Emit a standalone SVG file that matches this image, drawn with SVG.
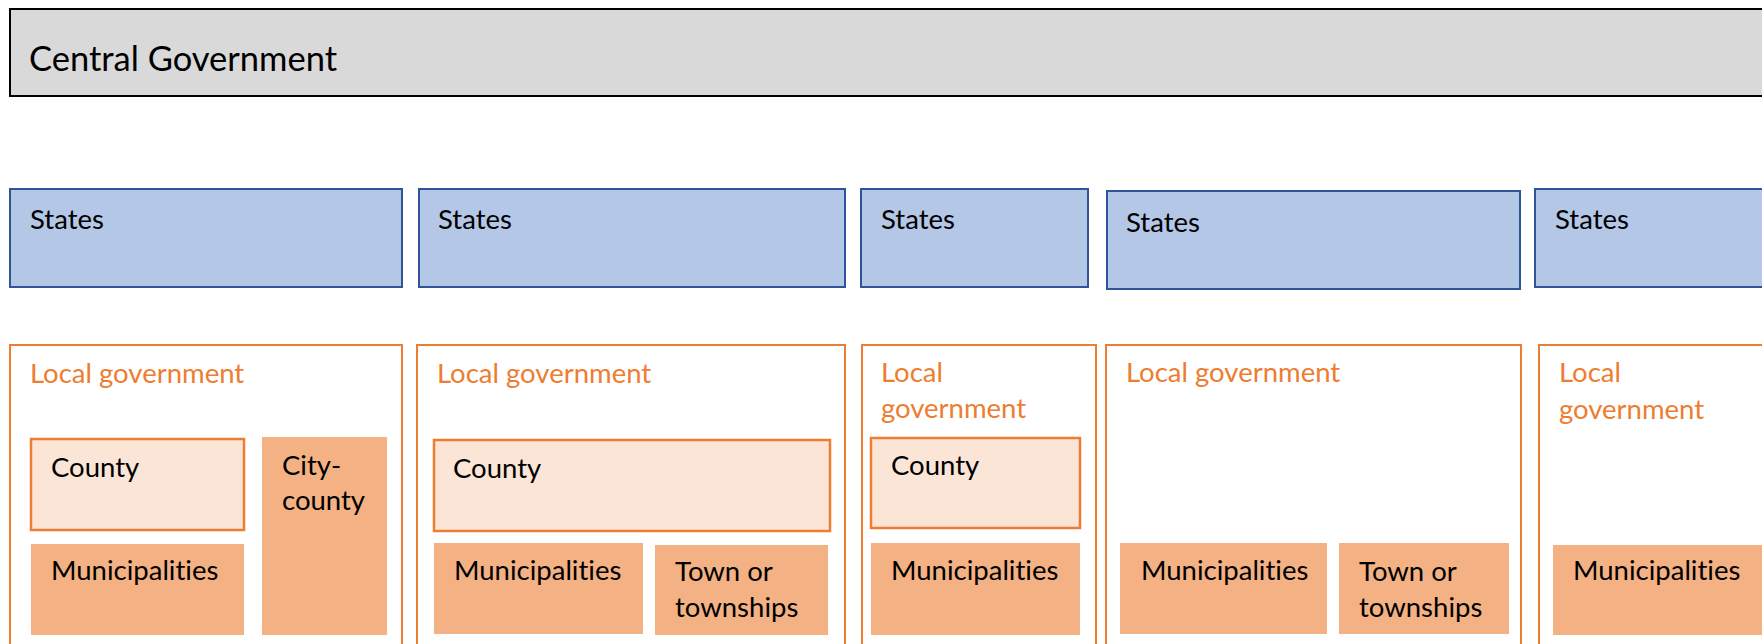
<svg xmlns="http://www.w3.org/2000/svg" width="1762" height="644" viewBox="0 0 1762 644">
<style>
text{font-family:Lato,"Open Sans","Liberation Sans",sans-serif;fill:#000;font-size:27.5px;font-variant-ligatures:none;font-feature-settings:"liga" 0}
.cg{fill:#d9d9d9;stroke:#000;stroke-width:2}
.st{fill:#b4c7e7;stroke:#2f5597;stroke-width:2}
.lg{fill:#fff;stroke:#ed7d31;stroke-width:2}
.co{fill:#fbe5d6;stroke:#ed7d31;stroke-width:2.5}
.mu{fill:#f4b183;stroke:none}
.lt{fill:#ed7d31}
.big{font-size:34.5px}
</style>
<rect width="1762" height="644" fill="#fff"/>
<g id="central">
<rect class="cg" x="10" y="9" width="1770" height="87"/>
<text class="big" x="29" y="71">Central Government</text>
</g>
<g id="states">
<g id="state1"><rect class="st" x="10" y="189" width="392" height="98"/><text x="30" y="229">States</text></g>
<g id="state2"><rect class="st" x="419" y="189" width="426" height="98"/><text x="438" y="229">States</text></g>
<g id="state3"><rect class="st" x="861" y="189" width="227" height="98"/><text x="881" y="229">States</text></g>
<g id="state4"><rect class="st" x="1107" y="191" width="413" height="98"/><text x="1126" y="232">States</text></g>
<g id="state5"><rect class="st" x="1535" y="189" width="260" height="98"/><text x="1555" y="229">States</text></g>
</g>
<g id="local1">
<rect class="lg" x="10" y="345" width="392" height="320"/>
<text class="lt" x="30" y="383">Local government</text>
<g id="county1"><rect class="co" x="31" y="439" width="213" height="91"/><text x="51" y="477">County</text></g>
<g id="citycounty1"><rect class="mu" x="262" y="437" width="125" height="198"/><text x="282" y="475">City-</text><text x="282" y="510">county</text></g>
<g id="muni1"><rect class="mu" x="31" y="544" width="213" height="91"/><text x="51" y="580">Municipalities</text></g>
</g>
<g id="local2">
<rect class="lg" x="417" y="345" width="428" height="320"/>
<text class="lt" x="437" y="383">Local government</text>
<g id="county2"><rect class="co" x="434" y="440" width="396" height="91"/><text x="453" y="478">County</text></g>
<g id="muni2"><rect class="mu" x="434" y="543" width="209" height="91"/><text x="454" y="580">Municipalities</text></g>
<g id="town2"><rect class="mu" x="655" y="545" width="173" height="90"/><text x="675" y="581">Town or</text><text x="675" y="617">townships</text></g>
</g>
<g id="local3">
<rect class="lg" x="862" y="345" width="234" height="320"/>
<text class="lt" x="881" y="382">Local</text>
<text class="lt" x="881" y="418">government</text>
<g id="county3"><rect class="co" x="871" y="438" width="209" height="90"/><text x="891" y="475">County</text></g>
<g id="muni3"><rect class="mu" x="871" y="543" width="209" height="92"/><text x="891" y="580">Municipalities</text></g>
</g>
<g id="local4">
<rect class="lg" x="1106" y="345" width="415" height="320"/>
<text class="lt" x="1126" y="382">Local government</text>
<g id="muni4"><rect class="mu" x="1120" y="543" width="207" height="91"/><text x="1141" y="580">Municipalities</text></g>
<g id="town4"><rect class="mu" x="1339" y="543" width="170" height="91"/><text x="1359" y="581">Town or</text><text x="1359" y="617">townships</text></g>
</g>
<g id="local5">
<rect class="lg" x="1539" y="345" width="260" height="320"/>
<text class="lt" x="1559" y="382">Local</text>
<text class="lt" x="1559" y="419">government</text>
<g id="muni5"><rect class="mu" x="1553" y="545" width="240" height="90"/><text x="1573" y="580">Municipalities</text></g>
</g>
<g id="connectors"></g>
</svg>
